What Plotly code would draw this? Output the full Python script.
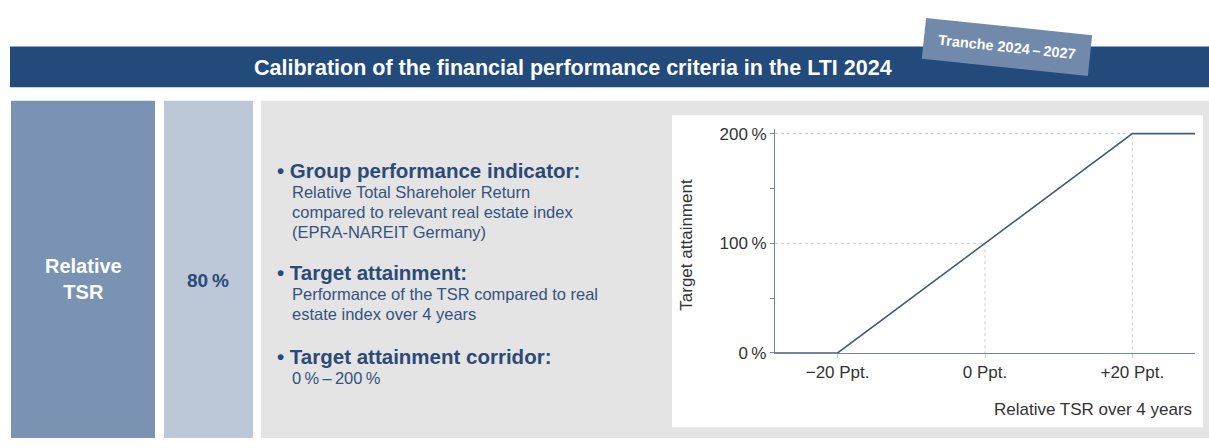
"""Calibration of the relative TSR criterion in the LTI 2024 tranche."""

import plotly.graph_objects as go

W, H = 1209, 448

# data
tsr_ppt = [-28.5, -20, 20, 28.5]
attainment = [0, 0, 200, 200]
guide_x = [0, 20]
guide_y = [100, 200]
y_tickvals = [0, 50, 100, 150, 200]
y_ticktext = ["0\u202f%", "", "100\u202f%", "", "200\u202f%"]
x_tickvals = [-20, 0, 20]
x_ticktext = ["\u221220 Ppt.", "0 Ppt.", "+20 Ppt."]

NAVY = "#224a7b"
TEXT_BLUE = "#2b4a78"
BODY_BLUE = "#34537f"
LINE = "#3f5d84"
AXIS = "#6f86a4"
FONT = "Liberation Sans, Arial, sans-serif"


def px(x):
    return x / W


def py(y):
    return 1 - y / H


fig = go.Figure()

# dotted drop lines to the kink points
for gx, gy in zip(guide_x, guide_y):
    fig.add_trace(go.Scatter(x=[tsr_ppt[0], gx, gx], y=[gy, gy, 0], mode="lines",
                             line=dict(color="#c9ced5", width=1, dash="dot"),
                             hoverinfo="skip"))

fig.add_trace(go.Scatter(x=tsr_ppt, y=attainment, mode="lines",
                         line=dict(color=LINE, width=1.6), hoverinfo="skip"))

shapes = [
    dict(type="rect", x0=px(10), x1=px(1209), y0=py(43), y1=py(85), fillcolor=NAVY),
    dict(type="rect", x0=px(11), x1=px(155), y0=py(99), y1=py(448), fillcolor="#7a93b2"),
    dict(type="rect", x0=px(164), x1=px(253), y0=py(99), y1=py(448), fillcolor="#bcc8d8"),
    dict(type="rect", x0=px(261), x1=px(1209), y0=py(99), y1=py(448), fillcolor="#e4e4e4"),
    dict(type="rect", x0=px(672), x1=px(1203), y0=py(114), y1=py(437), fillcolor="white"),
]
for s in shapes:
    s.update(xref="paper", yref="paper", line=dict(width=0), layer="below")

ann = [
    dict(x=px(573), y=py(65), text="<b>Calibration of the financial performance criteria in the LTI 2024</b>",
         font=dict(size=21.5, color="white")),
    dict(x=px(1007), y=py(43), text="<b>Tranche 2024\u2009\u2013\u20092027</b>", textangle=6,
         font=dict(size=14.5, color="white"), bgcolor="#7189ab", borderpad=12,
         width=142),
    dict(x=px(83), y=py(284), text="<b>Relative<br>TSR</b>", font=dict(size=20, color="white")),
    dict(x=px(208), y=py(285), text="<b>80\u2009%</b>", font=dict(size=19, color=TEXT_BLUE)),
]

blocks = [
    (171, "Group performance indicator:",
     ["Relative Total Shareholer Return", "compared to relevant real estate index",
      "(EPRA-NAREIT Germany)"]),
    (277, "Target attainment:",
     ["Performance of the TSR compared to real", "estate index over 4 years"]),
    (364, "Target attainment corridor:", ["0\u2009%\u2009\u2013\u2009200\u2009%"]),
]
for y0, head, lines in blocks:
    ann.append(dict(x=px(275), y=py(y0), xanchor="left", text="<b>\u2022 " + head + "</b>",
                    font=dict(size=20.5, color=TEXT_BLUE)))
    for i, line in enumerate(lines):
        ann.append(dict(x=px(290), y=py(y0 + 22 + 21 * i), xanchor="left", text=line,
                        font=dict(size=16.5, color=BODY_BLUE)))

ann.append(dict(x=px(1194), y=py(418), xanchor="right", text="Relative TSR over 4 years",
                font=dict(size=17, color="#333333")))
ann.append(dict(x=px(687), y=py(248), text="Target attainment", textangle=-90,
                font=dict(size=17, color="#333333")))

for a in ann:
    a.setdefault("xanchor", "center")
    a.update(xref="paper", yref="paper", showarrow=False, yanchor="middle")

fig.update_layout(
    width=W, height=H, margin=dict(l=0, r=0, t=0, b=0),
    paper_bgcolor="white", plot_bgcolor="rgba(0,0,0,0)",
    font=dict(family=FONT, color="#333333"),
    showlegend=False, shapes=shapes, annotations=ann,
    xaxis=dict(domain=[px(775), px(1195)], range=[-28.5, 28.5], showgrid=False,
               zeroline=False, showline=True, linecolor=AXIS, linewidth=1.2,
               tickvals=x_tickvals, ticktext=x_ticktext, ticks="outside",
               ticklen=4, tickcolor="#c9ced5", tickfont=dict(size=17, color="#333333")),
    yaxis=dict(domain=[py(360), py(128.5)], range=[0, 204], showgrid=False,
               zeroline=False, showline=True, linecolor=AXIS, linewidth=1.2,
               tickvals=y_tickvals, ticktext=y_ticktext, ticks="outside",
               ticklen=4, tickcolor=AXIS, tickfont=dict(size=17, color="#333333")),
)

fig.write_html(
    "out.html",
    config={"displayModeBar": False},
    post_script="document.body.style.margin='0';document.documentElement.style.overflow='hidden';",
)
